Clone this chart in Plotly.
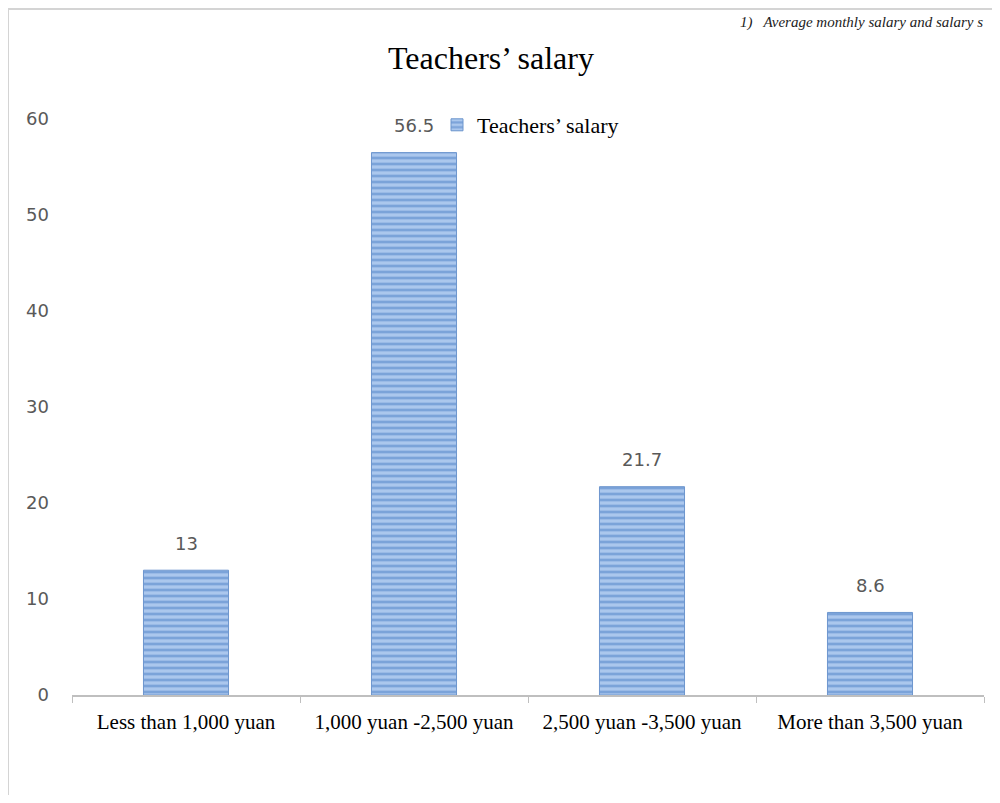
import plotly.graph_objects as go

categories = ["Less than 1,000 yuan", "1,000 yuan -2,500 yuan", "2,500 yuan -3,500 yuan", "More than 3,500 yuan"]
values = [13, 56.5, 21.7, 8.6]
value_labels = ["13", "56.5", "21.7", "8.6"]
series_name = "Teachers\u2019 salary"
title_text = "Teachers\u2019 salary"
header_text = "1)   Average monthly salary and salary s"
y_ticks = [0, 10, 20, 30, 40, 50, 60]

OFF = 8  # page body margin
W, H = 1000 - 2 * OFF, 803 - 2 * OFF
PL, PR, PT, PB = 72, 984, 119, 695  # plot area in page pixels
L, R, T, B = PL - OFF, (W + OFF) - PR, PT - OFF, (H + OFF) - PB
pw = W - L - R
ph = H - T - B

def px_x(px):
    return (px - OFF - L) / pw

def px_y(py):
    return (H - B - (py - OFF)) / ph

fig = go.Figure()
fig.add_trace(go.Bar(
    x=categories, y=values, name=series_name,
    width=0.373,
    marker=dict(
        color="#95b8e6",
        line=dict(color="#6d96ce", width=1),
        pattern=dict(shape="-", fgcolor="#7ba3d9", bgcolor="#abc7ed", size=6, solidity=0.45, fillmode="replace"),
    ),
))

for c, v, t in zip(categories, values, value_labels):
    fig.add_annotation(x=c, y=v, text=t, showarrow=False, yanchor="middle", yshift=27,
                       font=dict(family="DejaVu Sans", size=18, color="#595959"))

fig.update_layout(
    width=W, height=H,
    margin=dict(l=L, r=R, t=T, b=B),
    paper_bgcolor="white", plot_bgcolor="white",
    showlegend=True,
    legend=dict(x=px_x(437), y=px_y(104), xanchor="left", yanchor="top",
                font=dict(family="Liberation Serif", size=22, color="black"),
                bgcolor="rgba(0,0,0,0)", itemwidth=30),
    xaxis=dict(showline=True, linecolor="#bfbfbf", linewidth=1.5,
               ticks="outside", tickson="boundaries", ticklen=6, tickcolor="#bfbfbf",
               ticklabelstandoff=7,
               tickfont=dict(family="Liberation Serif", size=21, color="black"),
               showgrid=False),
    yaxis=dict(range=[0, 60], tickvals=y_ticks, showgrid=False, showline=False, zeroline=False,
               ticks="", ticklabelstandoff=22,
               tickfont=dict(family="DejaVu Sans", size=18, color="#595959")),
)

fig.add_annotation(text=title_text, xref="paper", yref="paper", x=px_x(491), y=px_y(58),
                   showarrow=False, xanchor="center", yanchor="middle",
                   font=dict(family="Liberation Serif", size=32, color="black"))

fig.add_annotation(text="<i>" + header_text + "</i>", xref="paper", yref="paper",
                   x=px_x(985), y=px_y(22), showarrow=False, xanchor="right", yanchor="middle",
                   font=dict(family="Liberation Serif", size=15, color="#222222"))

fig.add_shape(type="rect", xref="paper", yref="paper",
              x0=px_x(8), x1=px_x(1010), y0=px_y(801), y1=px_y(9),
              line=dict(color="#d4d4d4", width=2), fillcolor="rgba(0,0,0,0)", layer="below")

fig.write_html("out.html")
